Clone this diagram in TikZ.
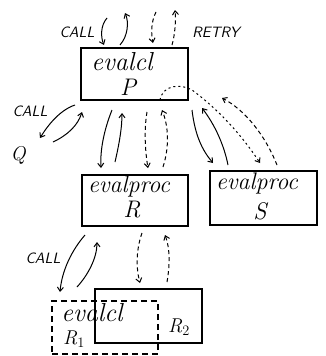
\documentclass[tikz,border=0pt]{standalone}
\usetikzlibrary{arrows.meta}
\begin{document}
\begin{tikzpicture}[x=1pt,y=-1pt,
  box/.style={draw,line width=1.3pt,inner sep=0pt},
  dbox/.style={draw,line width=1.3pt,inner sep=0pt,dash pattern=on 6pt off 4pt},
  arr/.style={line width=1pt,-{Straight Barb[length=4pt,width=6pt]}},
  darr/.style={arr,dash pattern=on 4pt off 3pt},
  dotarr/.style={arr,dash pattern=on 2pt off 3pt},
  big/.style={font=\fontsize{26}{30}\selectfont\itshape},
  proc/.style={font=\fontsize{24}{28}\selectfont\itshape},
  mid/.style={font=\fontsize{24}{28}\selectfont\itshape},
  sml/.style={font=\fontsize{20}{24}\selectfont\itshape},
  lbl/.style={font=\fontsize{15}{18}\selectfont\sffamily\itshape}]
\useasboundingbox (0,0) rectangle (326,356);
% boxes
\node[box,minimum width=107pt,minimum height=52pt] (P) at (134.5,74) {};
\node[box,minimum width=106pt,minimum height=51pt] (R) at (135,200.5) {};
\node[box,minimum width=107pt,minimum height=54pt] (S) at (263.5,198) {};
\node[box,minimum width=107pt,minimum height=54pt] (R2) at (148.5,316) {};
\node[dbox,minimum width=106pt,minimum height=53pt] (R1) at (105,327.5) {};
% texts
\node[big] (tP1) at (122,62) {evalcl};
\node[mid] (tP2) at (128,87) {P};
\node[proc] (tR1) at (129,186) {evalproc};
\node[mid] (tR2) at (132,210) {R};
\node[proc] (tS1) at (257,183) {evalproc};
\node[mid] (tS2) at (260,211) {S};
\node[big] (tR1a) at (92,313) {evalcl};
\node[sml] (tR1b) at (74,339) {R$_1$};
\node[sml] (tR2b) at (179,327) {R$_2$};
\node[lbl] (c1) at (77,32) {CALL};
\node[lbl] (rt) at (216,32) {RETRY};
\node[lbl] (c2) at (30,111) {CALL};
\node[lbl] (c3) at (43,258) {CALL};
\node[sml] (Q) at (18,155) {Q};
% coordinates
\coordinate (a1) at (107,18);  \coordinate (b1) at (104,45);
\coordinate (a2) at (120,45);  \coordinate (b2) at (125,13);
\coordinate (a3) at (156,12);  \coordinate (b3) at (153,43);
\coordinate (a4) at (172,45);  \coordinate (b4) at (175,10);
\coordinate (a5) at (75,105);  \coordinate (b5) at (40,138);
\coordinate (a6) at (53,142);  \coordinate (b6) at (82,112);
\coordinate (a7) at (112,110); \coordinate (b7) at (101,168);
\coordinate (a8) at (115,162); \coordinate (b8) at (122,113);
\coordinate (a9) at (147,112); \coordinate (b9) at (148,168);
\coordinate (a10) at (163,167); \coordinate (b10) at (162,110);
\coordinate (a11) at (192,110); \coordinate (b11) at (213,163);
\coordinate (a12) at (228,165); \coordinate (b12) at (202,108);
\coordinate (a13) at (160,100); \coordinate (m13) at (192,90); \coordinate (b13) at (260,163);
\coordinate (a14) at (277,165); \coordinate (b14) at (222,98);
\coordinate (a15) at (85,235); \coordinate (b15) at (60,292);
\coordinate (a16) at (77,287); \coordinate (b16) at (97,242);
\coordinate (a17) at (142,233); \coordinate (b17) at (140,283);
\coordinate (a18) at (167,282); \coordinate (b18) at (165,235);
% arrows
\draw[arr] (a1) .. controls (100,26) and (101,38) .. (b1);
\draw[arr] (a2) .. controls (128,36) and (129,22) .. (b2);
\draw[darr] (a3) .. controls (151,22) and (151,33) .. (b3);
\draw[darr] (a4) .. controls (175,35) and (176,20) .. (b4);
\draw[arr] (a5) .. controls (60,110) and (48,125) .. (b5);
\draw[arr] (a6) .. controls (68,135) and (78,125) .. (b6);
\draw[arr] (a7) .. controls (104,130) and (100,150) .. (b7);
\draw[arr] (a8) .. controls (119,145) and (122,128) .. (b8);
\draw[darr] (a9) .. controls (144,130) and (145,150) .. (b9);
\draw[darr] (a10) .. controls (170,145) and (168,125) .. (b10);
\draw[arr] (a11) .. controls (195,135) and (202,150) .. (b11);
\draw[arr] (a12) .. controls (224,145) and (215,125) .. (b12);
\draw[dotarr] (a13) .. controls (163,84) and (182,84) .. (m13) .. controls (222,112) and (245,140) .. (b13);
\draw[darr] (a14) .. controls (265,135) and (245,110) .. (b14);
\draw[arr] (a15) .. controls (72,250) and (62,270) .. (b15);
\draw[arr] (a16) .. controls (88,275) and (97,258) .. (b16);
\draw[darr] (a17) .. controls (136,250) and (136,268) .. (b17);
\draw[darr] (a18) .. controls (170,265) and (170,248) .. (b18);
\end{tikzpicture}
\end{document}
